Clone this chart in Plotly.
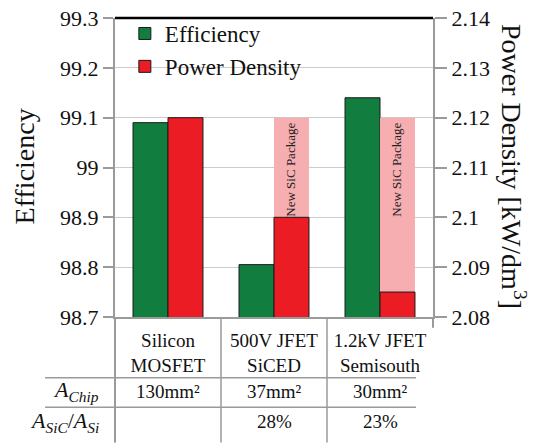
import plotly.graph_objects as go

categories = ["Silicon<br>MOSFET", "500V JFET<br>SiCED", "1.2kV JFET<br>Semisouth"]
efficiency = [99.09, 98.805, 99.14]
power_density = [2.12, 2.10, 2.085]
package_target = [None, 2.12, 2.12]
package_label = "New SiC Package"
chip_area = ["130mm²", "37mm²", "30mm²"]
area_ratio = ["", "28%", "23%"]
row_labels = ["<i>A</i><sub><i>Chip</i></sub>",
              "<i>A</i><sub><i>SiC</i></sub>/<i>A</i><sub><i>Si</i></sub>"]

FONT = "Liberation Serif, Times New Roman, DejaVu Serif, serif"
GREEN = "#117D3E"
RED = "#EC1C24"
PINK = "#F7AEB1"
GRAY = "#9a9a9a"

pink_len = [None if t is None else t - p for t, p in zip(package_target, power_density)]
pink_base = [None if t is None else p for t, p in zip(package_target, power_density)]

fig = go.Figure()
fig.add_trace(go.Bar(x=categories, y=efficiency, name="Efficiency", yaxis="y",
                     width=0.33, offset=-0.33,
                     marker=dict(color=GREEN, line=dict(color="#1a1a1a", width=1))))
fig.add_trace(go.Bar(x=categories, y=pink_len, base=pink_base, yaxis="y2",
                     width=0.33, offset=0.0, showlegend=False, hoverinfo="skip",
                     marker=dict(color=PINK, line=dict(width=0))))
fig.add_trace(go.Bar(x=categories, y=power_density, name="Power Density", yaxis="y2",
                     width=0.33, offset=0.0,
                     marker=dict(color=RED, line=dict(color="#1a1a1a", width=1))))

ann = []
for c, t in zip(categories, package_target):
    if t is not None:
        ann.append(dict(x=c, y=t, xref="x", yref="y2", text=package_label, textangle=-90,
                        xshift=17, yshift=-3, xanchor="center", yanchor="top", showarrow=False,
                        font=dict(family=FONT, size=13, color="#222")))
row_y = [-0.248, -0.35]
for c, a, r in zip(categories, chip_area, area_ratio):
    ann.append(dict(x=c, y=row_y[0], xref="x", yref="paper", text=a, showarrow=False,
                    xanchor="center", yanchor="middle",
                    font=dict(family=FONT, size=19, color="#111")))
    if r:
        ann.append(dict(x=c, y=row_y[1], xref="x", yref="paper", text=r, showarrow=False,
                        xanchor="center", yanchor="middle",
                        font=dict(family=FONT, size=19, color="#111")))
for lbl, yy in zip(row_labels, row_y):
    ann.append(dict(x=-0.045, y=yy, xref="paper", yref="paper", text=lbl, showarrow=False,
                    xanchor="right", yanchor="middle",
                    font=dict(family=FONT, size=22, color="#111")))
ann.append(dict(x=-0.285, y=0.505, xref="paper", yref="paper", text="Efficiency",
                xanchor="center", yanchor="middle",
                textangle=-90, showarrow=False, font=dict(family=FONT, size=28, color="#111")))
ann.append(dict(x=1.255, y=0.505, xref="paper", yref="paper",
                text="Power Density [kW/dm<sup>3</sup>]", xanchor="center", yanchor="middle",
                textangle=90, showarrow=False, font=dict(family=FONT, size=28, color="#111")))

shapes = [
    # white backdrop behind the legend, hiding the gridline under its text
    dict(type="rect", xref="paper", yref="paper", x0=0.03, x1=0.61, y0=0.815, y1=0.86,
         fillcolor="white", line=dict(width=0), layer="between"),
    dict(type="line", xref="paper", yref="paper", x0=0, x1=1, y0=1, y1=1,
         line=dict(color="black", width=2.5)),
    dict(type="line", xref="paper", yref="paper", x0=0, x1=0, y0=0, y1=-0.42,
         line=dict(color=GRAY, width=2)),
    dict(type="line", xref="paper", yref="paper", x0=1, x1=1, y0=0, y1=-0.036,
         line=dict(color=GRAY, width=2)),
    dict(type="line", xref="x", yref="paper", x0=0.5, x1=0.5, y0=0, y1=-0.42,
         line=dict(color=GRAY, width=1.5)),
    dict(type="line", xref="x", yref="paper", x0=1.5, x1=1.5, y0=0, y1=-0.42,
         line=dict(color=GRAY, width=1.5)),
    dict(type="line", xref="paper", yref="paper", x0=-0.22, x1=0.9465, y0=-0.2033, y1=-0.2033,
         line=dict(color=GRAY, width=1.5)),
    dict(type="line", xref="paper", yref="paper", x0=-0.22, x1=0.9465, y0=-0.3016, y1=-0.3016,
         line=dict(color=GRAY, width=1.5)),
]

# The page body has an 8px default margin; the figure is sized so that the
# plot area lands where the reference has it in the 546x443 window.
fig.update_layout(
    width=538, height=435,
    margin=dict(l=107, r=113, t=4, b=126, pad=0),
    paper_bgcolor="white", plot_bgcolor="white",
    barmode="overlay",
    font=dict(family=FONT, size=22, color="#111"),
    xaxis=dict(showline=True, linecolor=GRAY, linewidth=2, ticks="", automargin=False,
               tickfont=dict(family=FONT, size=19), ticklabelstandoff=5, showgrid=False),
    yaxis=dict(range=[98.6999, 99.3001], dtick=0.1, tick0=98.7, showgrid=True,
               gridcolor="#cccccc", automargin=False, ticklabeloverflow="allow",
               gridwidth=1, zeroline=False, showline=True, linecolor=GRAY, linewidth=2,
               ticks="outside", ticklen=10, tickcolor=GRAY, tickwidth=1.5,
               tickfont=dict(family=FONT, size=22)),
    yaxis2=dict(range=[2.07999, 2.14001], dtick=0.01, tick0=2.08, overlaying="y", side="right",
                showgrid=False, zeroline=False, showline=True, linecolor=GRAY, linewidth=2,
                ticks="outside", ticklen=12, tickcolor=GRAY, tickwidth=1.5, automargin=False,
                ticklabeloverflow="allow",
                tickfont=dict(family=FONT, size=22)),
    legend=dict(x=0.031, y=1.02, xanchor="left", yanchor="top", bgcolor="rgba(0,0,0,0)",
                font=dict(family=FONT, size=23), traceorder="normal", tracegroupgap=0),
    annotations=ann, shapes=shapes, showlegend=True,
)

fig.write_html("out.html")
